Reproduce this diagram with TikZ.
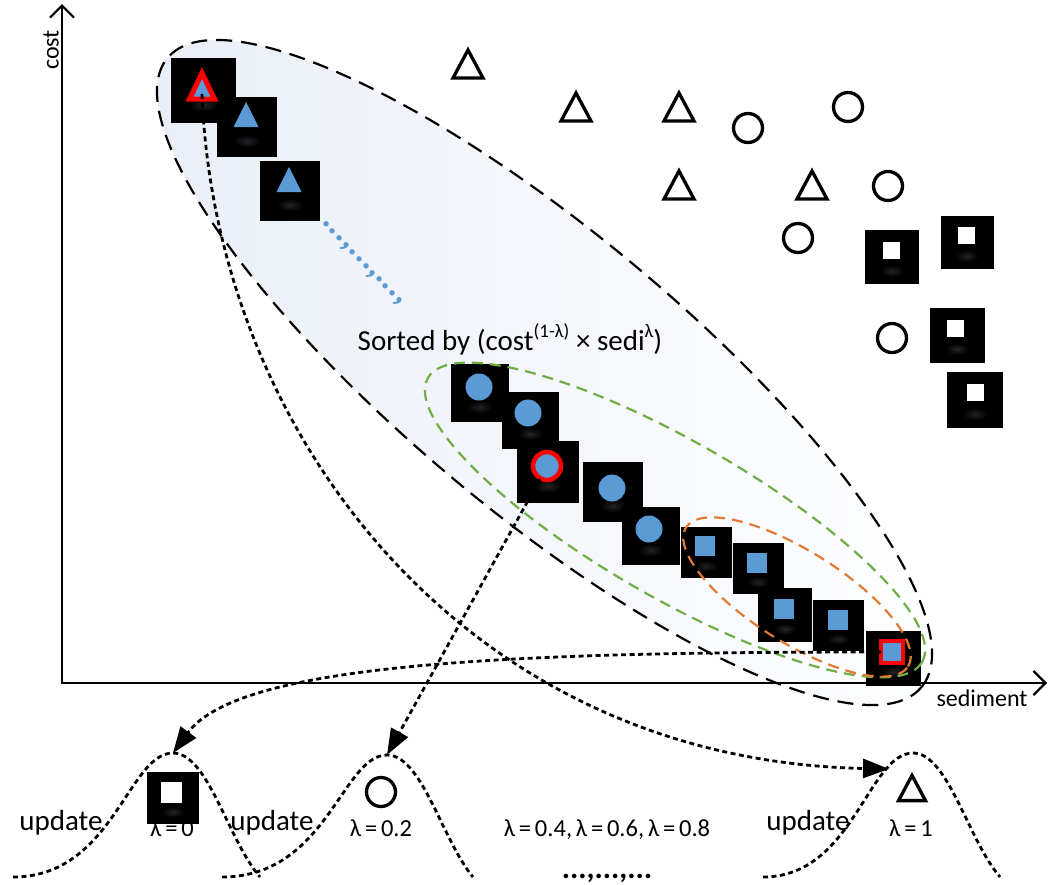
\documentclass[tikz,border=0pt]{standalone}
\usepackage{fontspec}
\setmainfont{Carlito}
\usetikzlibrary{arrows.meta}

\definecolor{shapeblue}{RGB}{91,155,213}
\definecolor{ringred}{RGB}{255,0,0}
\definecolor{ellgreen}{RGB}{112,173,71}
\definecolor{ellorange}{RGB}{226,122,52}
\definecolor{ellfill}{RGB}{233,238,247}
\definecolor{glowc}{RGB}{34,34,40}
\definecolor{dotblue}{RGB}{91,155,213}

% black icon tile with a soft glow under its symbol
\newcommand\tile[4]{%
  \node[tilebox, minimum size=#4pt] (#1) at (#2,#3) {};
  \shade[inner color=glowc, outer color=black] (#2,#3+14) ellipse [x radius=#4pt*0.22, y radius=#4pt*0.11];
}
% raised exponent in the sorting rule
\newcommand\expo[1]{\raisebox{0.42em}{\fontsize{19}{22}\selectfont #1}}
% narrow word spaces for the lambda labels
\newcommand\tightsp{\spaceskip=3.8pt plus 1pt\relax}

\begin{document}
\begin{tikzpicture}[x=1pt, y=-1pt,
  axisline/.style={line width=2.2pt, -{Straight Barb[length=12pt,width=24pt,line width=2.2pt]}},
  bigell/.style={draw=black, line width=2.2pt, dash pattern=on 16pt off 9pt},
  grnell/.style={draw=ellgreen, line width=2.2pt, dash pattern=on 11pt off 7pt},
  orgell/.style={draw=ellorange, line width=2.2pt, dash pattern=on 11pt off 7pt},
  conn/.style={line width=2.8pt, dash pattern=on 5pt off 3.5pt, -{Triangle[length=26pt,width=19pt]}},
  bell/.style={line width=2.8pt, dash pattern=on 5pt off 3.5pt},
  oshape/.style={draw=black, line width=3.3pt, fill=white},
  tilebox/.style={fill=black, draw=none, inner sep=0pt, outer sep=0pt},
  lab/.style={font=\fontsize{29}{34}\selectfont, inner sep=0pt, anchor=base},
  lamb/.style={font=\fontsize{24.5}{30}\selectfont, execute at begin node=\tightsp, inner sep=0pt, anchor=base},
  axlab/.style={font=\fontsize{24}{28}\selectfont, inner sep=0pt},
  otri/.pic={\draw[oshape, line join=miter] (0,-14) -- (15,14) -- (-15,14) -- cycle;},
  ocirc/.pic={\draw[oshape] (0,0) circle[radius=14.5pt];},
  btri/.pic={\fill[shapeblue] (0,-16.5) -- (12.5,8.5) -- (-12.5,8.5) -- cycle;},
  bcirc/.pic={\fill[shapeblue] (0,0) circle[radius=13.5pt];},
  bsq/.pic={\fill[shapeblue] (-10,-10) rectangle (10,10);},
  wsq/.pic={\fill[white] (-8.5,-8.5) rectangle (8.5,8.5);}
]
\useasboundingbox (0,0) rectangle (1049,884);
\fill[white] (0,0) rectangle (1049,884);

% shaded region of the first sort
\begin{scope}[shift={(544.5,372.5)}, rotate=-39.85]
  \shade[left color=ellfill, right color=white] (0,0) ellipse [x radius=491pt, y radius=140pt];
\end{scope}

% axes
\draw[axisline] (62,684) -- (62,4);
\draw[axisline] (61,683) -- (1047,683);
\node[axlab, rotate=90] (ylab) at (51,50) {cost};
\node[axlab] (xlab) at (982,698) {sediment};

% scattered samples
\pic at (468,64) {otri};
\pic at (576,107) {otri};
\pic at (679,107) {otri};
\pic at (679,185) {otri};
\pic at (812,185) {otri};
\pic at (748,128) {ocirc};
\pic at (848,107) {ocirc};
\pic at (888,186) {ocirc};
\pic at (798,238) {ocirc};
\pic at (892,338) {ocirc};

% white-square tiles
\tile{w1}{892}{257}{54}
\tile{w2}{967}{242}{53}
\tile{w3}{957}{335}{55}
\tile{w4}{975}{400}{56}
\pic at (891,250) {wsq};
\pic at (966,235) {wsq};
\pic at (955,328) {wsq};
\pic at (975,392) {wsq};

% triangle tiles
\tile{a3}{290}{191}{60}
\tile{a2}{247}{127}{60}
\tile{a1}{203.5}{90.5}{65}
\pic at (246,118.5) {btri};
\pic at (289,183.5) {btri};
\filldraw[fill=shapeblue, draw=ringred, line width=5pt, line join=miter]
  (202,73) -- (214.5,99) -- (189.5,99) -- cycle;

% circle tiles
\tile{c1}{480}{393}{58}
\tile{c2}{530}{420}{57}
\tile{c3}{548}{472}{62}
\tile{c4}{613}{492}{60}
\tile{c5}{651}{536}{58}
\pic at (479,387) {bcirc};
\pic at (528,413) {bcirc};
\pic at (612,488) {bcirc};
\pic at (649,529) {bcirc};
\filldraw[fill=shapeblue, draw=ringred, line width=4.5pt] (547,466) circle[radius=14pt];

% square tiles
\tile{s1}{706}{552}{51}
\tile{s2}{758}{568}{51}
\tile{s3}{785}{615}{54}
\tile{s4}{838}{625}{51}
\tile{s5}{893}{658}{55}
\pic at (705,546) {bsq};
\pic at (757,563) {bsq};
\pic at (784,609) {bsq};
\pic at (838,620) {bsq};
\filldraw[fill=shapeblue, draw=ringred, line width=4pt] (881,641) rectangle (903,663);

% continuation marks along the sorted list
\node[font=\bfseries\fontsize{36}{40}\selectfont, text=dotblue, rotate=-46, anchor=base, inner sep=0pt]
  (more) at (361,264) {...,...,...,};

% groupings
\begin{scope}[shift={(544.5,372.5)}, rotate=-39.85]
  \draw[bigell] (0,0) ellipse [x radius=491pt, y radius=140pt];
\end{scope}
\begin{scope}[shift={(675,520)}, rotate=-29.9]
  \draw[grnell] (0,0) ellipse [x radius=285pt, y radius=78pt];
\end{scope}
\begin{scope}[shift={(797,597)}, rotate=-32]
  \draw[orgell] (0,0) ellipse [x radius=131pt, y radius=46pt];
\end{scope}

\node[font=\fontsize{29}{34}\selectfont, inner sep=0pt, anchor=base] (sortlab) at (510,350)
  {Sorted by (cost\expo{(1-λ)} × sedi\expo{λ})};

% update steps
\node[lab] (up1) at (61,830) {update};
\node[lab] (up2) at (272,830) {update};
\node[lab] (up3) at (808,830) {update};
\node[lamb] (l0) at (172,836) {λ = 0};
\node[lamb] (l2) at (381,836) {λ = 0.2};
\node[lamb] (lmid) at (607,836) {λ = 0.4, λ = 0.6, λ = 0.8};
\node[lamb] (l1) at (911,836) {λ = 1};
\node[font=\bfseries\fontsize{31}{36}\selectfont, inner sep=0pt, anchor=base] (dots) at (607,878) {...,...,...};

\coordinate (pk0) at (173,753);
\coordinate (pk2) at (387,755);
\coordinate (pk1) at (913,753);
\draw[bell] (13,877) .. controls (113,877) and (128,753) .. (pk0)
  .. controls (208,753) and (228,840) .. (260,877);
\draw[bell] (222,877) .. controls (327,877) and (342,755) .. (pk2)
  .. controls (422,755) and (442,840) .. (473,877);
\draw[bell] (763,877) .. controls (853,877) and (868,753) .. (pk1)
  .. controls (948,753) and (968,840) .. (1000,877);

\tile{b0}{173}{798}{52}
\fill[white] (160.5,781.5) rectangle (181.5,802.5);
\pic at (381,792) {ocirc};
\pic at (912,788) [scale=0.9] {otri};

% connectors from the picked samples
\coordinate (redtri) at (202,94);
\coordinate (redcirc) at (540,479);
\coordinate (redsq) at (881,652);
\coordinate (tip1) at (889,769);
\draw[conn] (redtri) .. controls (215,430) and (462,760) .. (tip1);
\draw[conn] (redcirc) -- (pk2);
\draw[conn] (redsq) .. controls (520,652) and (240,662) .. (pk0);
\end{tikzpicture}
\end{document}
